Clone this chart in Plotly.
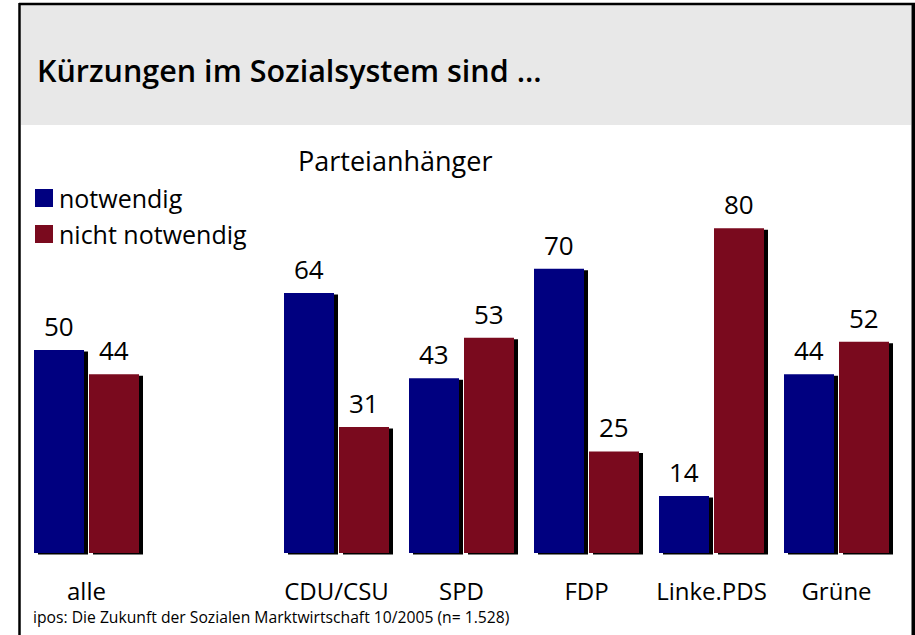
import plotly.graph_objects as go

# ---- data ----
categories = ["alle", "CDU/CSU", "SPD", "FDP", "Linke.PDS", "Grüne"]
cat_pos = [0, 2, 3, 4, 5, 6]
notwendig = [50, 64, 43, 70, 14, 44]
nicht_notwendig = [44, 31, 53, 25, 80, 52]
series_names = ["notwendig", "nicht notwendig"]
title_text = "Kürzungen im Sozialsystem sind ..."
subtitle_text = "Parteianhänger"
source_text = "ipos: Die Zukunft der Sozialen Marktwirtschaft 10/2005 (n= 1.528)"

# ---- style ----
BLUE = "#000080"
RED = "#7a0a1e"
GRAY = "#e8e8e8"
FONT = "Open Sans"
W, H = 915, 635
M_T, M_B = 147, 74
PLOT_H = H - M_T - M_B
BAR_W = 0.4
SH_DX = 0.032
SH_DY = 0.37

def py(p):
    return (H - M_B - p) / PLOT_H

def px(p):
    return p / W

fig = go.Figure()
for vals, off in [(notwendig, -0.42), (nicht_notwendig, 0.02)]:
    fig.add_trace(go.Bar(x=cat_pos, y=vals, base=-SH_DY, width=BAR_W, offset=off + SH_DX,
                         marker=dict(color="black", line=dict(width=0)),
                         showlegend=False, hoverinfo="skip"))
for vals, off, col, name in [(notwendig, -0.42, BLUE, series_names[0]),
                             (nicht_notwendig, 0.02, RED, series_names[1])]:
    fig.add_trace(go.Bar(x=cat_pos, y=vals, width=BAR_W, offset=off, name=name,
                         marker=dict(color=col, line=dict(width=0)), showlegend=False))

annotations = []
for vals, shift in [(notwendig, -27.5), (nicht_notwendig, 27.5)]:
    for xp, v in zip(cat_pos, vals):
        annotations.append(dict(x=xp, y=v, xref="x", yref="y", text=str(v), showarrow=False,
                                xshift=shift, yshift=4, yanchor="bottom",
                                font=dict(family=FONT, size=26, color="black")))

annotations += [
    dict(x=px(35), y=py(70), xref="paper", yref="paper", text=title_text, showarrow=False,
         xanchor="left", yanchor="middle", font=dict(family=FONT, size=30.5, color="black", weight=600)),
    dict(x=px(296), y=py(160), xref="paper", yref="paper", text=subtitle_text, showarrow=False,
         xanchor="left", yanchor="middle", font=dict(family=FONT, size=27, color="black")),
    dict(x=px(57), y=py(198), xref="paper", yref="paper", text=series_names[0], showarrow=False,
         xanchor="left", yanchor="middle", font=dict(family=FONT, size=25, color="black")),
    dict(x=px(57), y=py(234), xref="paper", yref="paper", text=series_names[1], showarrow=False,
         xanchor="left", yanchor="middle", font=dict(family=FONT, size=25, color="black")),
    dict(x=px(31), y=py(617), xref="paper", yref="paper", text=source_text, showarrow=False,
         xanchor="left", yanchor="middle", font=dict(family=FONT, size=15.7, color="black")),
]

shapes = [
    dict(type="rect", xref="paper", yref="paper", x0=px(21), x1=px(911), y0=py(125), y1=py(5),
         fillcolor=GRAY, line=dict(width=0), layer="below"),
    dict(type="line", xref="paper", yref="paper", x0=px(19), x1=px(915), y0=py(4), y1=py(4),
         line=dict(color="black", width=2.5)),
    dict(type="line", xref="paper", yref="paper", x0=px(19.5), x1=px(19.5), y0=py(3), y1=py(640),
         line=dict(color="black", width=2.5)),
    dict(type="line", xref="paper", yref="paper", x0=px(913.5), x1=px(913.5), y0=py(3), y1=py(640),
         line=dict(color="black", width=4)),
    dict(type="rect", xref="paper", yref="paper", x0=px(35), x1=px(53), y0=py(207), y1=py(189),
         fillcolor=BLUE, line=dict(width=0)),
    dict(type="rect", xref="paper", yref="paper", x0=px(35), x1=px(53), y0=py(243), y1=py(225),
         fillcolor=RED, line=dict(width=0)),
]

x0 = -86.5 / 125
fig.update_layout(
    width=W, height=H,
    margin=dict(l=0, r=0, t=M_T, b=M_B),
    paper_bgcolor="white", plot_bgcolor="white",
    barmode="overlay",
    showlegend=False,
    annotations=annotations,
    shapes=shapes,
    font=dict(family=FONT, color="black"),
    xaxis=dict(range=[x0, x0 + W / 125], tickvals=cat_pos, ticktext=categories,
               showgrid=False, zeroline=False, showline=False, ticks="",
               tickfont=dict(family=FONT, size=24, color="black"), ticklabelstandoff=14),
    yaxis=dict(range=[-2, 100], visible=False, showgrid=False, zeroline=False),
)

fig.write_html("out.html", config={"displayModeBar": False},
               post_script="document.body.style.margin='0';document.body.style.overflow='hidden';")
